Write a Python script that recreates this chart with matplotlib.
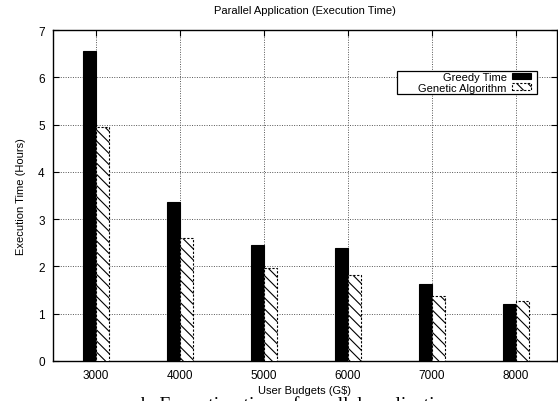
import matplotlib
matplotlib.use("Agg")
from matplotlib import pyplot as plt
from matplotlib.patches import Rectangle
import numpy as np

#-----------------------Data-----------------------#

budgets = ["3000", "4000", "5000", "6000", "7000", "8000"]
greedy_time = [6.55, 3.37, 2.45, 2.39, 1.63, 1.20]
genetic_time = [4.95, 2.61, 1.96, 1.82, 1.37, 1.27]
yticks = [0, 1, 2, 3, 4, 5, 6, 7]

#-----------------------Plot-----------------------#

plt.rcParams['font.family'] = ['Liberation Sans', 'DejaVu Sans']
plt.rcParams['hatch.linewidth'] = 0.8

W, H = 558, 402
fig = plt.figure(figsize=(W/100, H/100), dpi=100)
ax = fig.add_axes([53/W, 1 - 362/H, (557-53)/W, (362-31)/H])

x = np.arange(len(budgets))
w = 0.155

ax.bar(x - w/2, greedy_time, width=w, color='black', edgecolor='black',
       linewidth=0.8, label='Greedy Time', zorder=3)
ax.bar(x + w/2, genetic_time, width=w, color='white', edgecolor='black',
       hatch='\\\\\\', linestyle=(0, (2, 1.5)), linewidth=0.8,
       label='Genetic Algorithm', zorder=3)

ax.set_xlim(-0.51, 5.49)
ax.set_ylim(0, 7)
ax.set_xticks(x)
ax.set_xticklabels(budgets)
ax.set_yticks(yticks)

ax.tick_params(direction='in', length=4, width=0.8, top=True, right=True,
               labelsize=8.5, pad=6)
ax.grid(True, linestyle=(0, (1, 1.5)), color='#555555', linewidth=0.7, zorder=0)
ax.set_axisbelow(True)
for s in ax.spines.values():
    s.set_linewidth(1.0)

ax.set_xlabel('User Budgets (G$)', fontsize=8, labelpad=3)
ax.set_ylabel('Execution Time (Hours)', fontsize=8, labelpad=9)
ax.set_title('Parallel Application (Execution Time)', fontsize=8, pad=12)

# gnuplot style key: wide white box, text right aligned, sample on the right
key_box = Rectangle((397/W, 1 - 95/H), (537-397)/W, (95-72)/H,
                    transform=fig.transFigure, facecolor='white',
                    edgecolor='black', linewidth=0.9, zorder=4, clip_on=False)
ax.add_artist(key_box)

leg = ax.legend(loc='upper right', markerfirst=False,
                fontsize=8, frameon=False, borderpad=0.0,
                labelspacing=0.05, handlelength=1.7, handleheight=0.55,
                handletextpad=0.5, borderaxespad=0)
leg.set_bbox_to_anchor((531/W, 1 - 73/H), transform=fig.transFigure)
leg.set_zorder(6)

# clipped caption under the chart
fig.text(140/W, -0.021, 'b. Execution time of parallel application',
         family=['Liberation Serif', 'DejaVu Serif'], fontsize=14,
         ha='left', va='baseline')

fig.savefig('out.png', dpi=100)
